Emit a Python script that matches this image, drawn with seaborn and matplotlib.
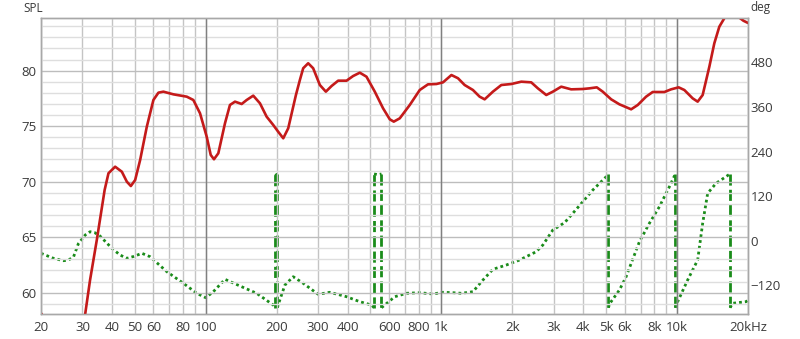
import numpy as np
import pandas as pd
import matplotlib
matplotlib.use("Agg")
import matplotlib.pyplot as plt
import seaborn as sns
from matplotlib.ticker import FixedLocator, FixedFormatter, NullFormatter

# ---------------- data ----------------
spl_freq = [20, 21, 23, 26, 28.5, 30.8, 32.3, 34.5, 37.25, 38.67, 41.27, 44.06, 46.27,
            48.11, 50.18, 52.68, 56.23, 59.98, 62.99, 66.12, 72.91, 83.09, 88.6, 94.59,
            100.97, 105.0, 108.4, 113.1, 120.7, 126.7, 133.1, 142.1, 149.2, 159.1, 169.9,
            181.3, 193.4, 203.0, 213.3, 223.9, 241.4, 250.9, 259.2, 272.1, 285.7, 305.0,
            323.4, 342.0, 364.7, 395.9, 422.1, 450.6, 481.0, 521.7, 565.6, 603.9, 628.0,
            665.9, 734.1, 809.3, 877.4, 952.4, 1016, 1103, 1176, 1255, 1361, 1453, 1526,
            1654, 1796, 1980, 2183, 2406, 2567, 2786, 2971, 3225, 3554, 3981, 4250, 4564,
            4838, 5253, 5695, 6385, 6810, 7389, 7881, 8835, 9433, 10158, 10738, 11645,
            12231, 12843, 13709, 14392, 15110, 15864, 17000, 18000, 18527, 19130, 20000]
spl_db = [58.15, 57.4, 55.5, 54.5, 55.5, 58.08, 61.14, 64.75, 69.26, 70.76, 71.35, 70.9,
          70.0, 69.61, 70.15, 71.95, 74.95, 77.36, 78.02, 78.11, 77.87, 77.66, 77.36,
          76.16, 74.05, 72.41, 72.02, 72.56, 75.26, 76.91, 77.21, 77.0, 77.36, 77.75,
          77.06, 75.86, 75.11, 74.5, 73.91, 74.81, 77.81, 79.16, 80.22, 80.67, 80.22,
          78.71, 78.11, 78.62, 79.1, 79.1, 79.52, 79.82, 79.46, 78.11, 76.61, 75.62,
          75.41, 75.71, 76.91, 78.26, 78.77, 78.8, 78.95, 79.61, 79.32, 78.71, 78.26,
          77.66, 77.42, 78.11, 78.71, 78.8, 79.01, 78.95, 78.41, 77.81, 78.11, 78.56,
          78.32, 78.35, 78.41, 78.5, 78.11, 77.42, 76.97, 76.52, 76.91, 77.66, 78.08,
          78.08, 78.32, 78.5, 78.26, 77.51, 77.21, 77.81, 80.36, 82.47, 83.96, 84.72,
          85.6, 85.5, 84.72, 84.5, 84.3]

phase_freq = [20.0, 22.6, 24.9, 26.2, 27.5, 28.8, 30.8, 32.3, 33.8, 35.6, 40.0, 43.3, 46.3,
              49.5, 53.6, 58.1, 68.4, 80.4, 91.6, 100, 107.7, 120.7, 139.8, 164.5, 193.4,
              197.6, 197.6, 199.5, 201.5, 201.5, 203.5, 216.8, 235.1, 259.2, 300, 336.3,
              395.9, 450.6, 505, 518, 518, 537, 557, 557, 575, 634, 711, 809, 921, 1016,
              1120, 1216, 1361, 1501, 1654, 1886, 2147, 2526, 2695, 2971, 3331, 3611,
              3981, 4390, 5003, 5116, 5116, 5166, 5695, 6079, 6923, 7630, 8414, 9278,
              9835, 9835, 10060, 11092, 12231, 12843, 13486, 14633, 16774, 16774, 17204,
              19614, 20000]
phase_deg = [-33.6, -47.1, -53.5, -51.6, -42.8, -8.0, 15.6, 24.5, 22.0, 12.9, -20.2, -38.2,
             -47.1, -42.0, -33.6, -42.8, -83.1, -114.3, -141.2, -153.1, -136.9, -103.6,
             -121.6, -141.2, -172.7, -180, 180, 177, 180, -180, -170, -118.9, -96.6,
             -114.3, -143.9, -138.5, -150.4, -163.8, -172.7, -180, 180, 178, 180, -180,
             -172.7, -150.4, -141.2, -139.6, -143.1, -138.5, -139.6, -141.2, -136.9,
             -105.4, -76.7, -65.1, -51.6, -29.3, -11.3, 29.1, 48.7, 74.0, 105.2, 136.7,
             172.4, 180, -180, -170, -132.3, -96.6, -2.4, 47.1, 91.7, 145.5, 180, -180,
             -163.8, -105.4, -51.6, 47.1, 127.8, 154.7, 180, -180, -168.1, -163.8, -160]

xtick_values = [20, 30, 40, 50, 60, 80, 100, 200, 300, 400, 600, 800, 1000, 2000, 3000,
                4000, 5000, 6000, 8000, 10000, 20000]
xtick_labels = ["20", "30", "40", "50", "60", "80", "100", "200", "300", "400", "600",
                "800", "1k", "2k", "3k", "4k", "5k", "6k", "8k", "10k", "20kHz"]
spl_ticks = [60, 65, 70, 75, 80]
deg_ticks = [-120, 0, 120, 240, 360, 480]

assert len(spl_freq) == len(spl_db)
assert len(phase_freq) == len(phase_deg)

# ---------------- style ----------------
sns.set_theme(style="white")
plt.rcParams["font.family"] = ["Open Sans", "DejaVu Sans"]

RED = "#c41a1a"
GREEN = "#1a8c1a"
TXT = "#3a3a3a"

fig = plt.figure(figsize=(8.0, 3.39), dpi=100)
ax = fig.add_axes([41 / 800, 1 - 314 / 339, (748 - 41) / 800, (314 - 18.3) / 339])
ax2 = ax.twinx()

# phase (right axis), drawn below SPL
ph = pd.DataFrame({"freq": phase_freq, "deg": phase_deg})
jump = ph["deg"].diff().abs() > 180
ph["seg"] = jump.cumsum()
for _, g in ph.groupby("seg"):
    sns.lineplot(data=g, x="freq", y="deg", ax=ax2, color=GREEN, linestyle=(0, (1, 1.1)),
                 linewidth=2.0, sort=False, estimator=None)
for i in np.where(jump.values)[0]:
    w = ph.iloc[i - 1:i + 1]
    sns.lineplot(data=w, x="freq", y="deg", ax=ax2, color=GREEN, linestyle=(0, (4, 1.5)),
                 linewidth=2.0, sort=False, estimator=None)

# SPL (left axis)
sp = pd.DataFrame({"freq": spl_freq, "spl": spl_db})
sns.lineplot(data=sp, x="freq", y="spl", ax=ax, color=RED, linewidth=1.9,
             sort=False, estimator=None)
for l in ax.get_lines():
    l.set_solid_joinstyle("round")

ax.set_zorder(ax2.get_zorder() + 1)
ax.patch.set_visible(False)

# scales & limits
for a in (ax, ax2):
    a.set_xscale("log")
    a.set_xlim(20, 20000)
    a.set_xlabel("")
    a.set_ylabel("")
ax.set_ylim(58.08, 84.72)
ax2.set_ylim(-196.9, 598.7)

# x grid/ticks
all_x = [m * 10 ** e for e in range(1, 5) for m in range(1, 10) if 20 <= m * 10 ** e <= 20000]
lab = {v: l for v, l in zip(xtick_values, xtick_labels)}
ax.xaxis.set_major_locator(FixedLocator(all_x))
ax.xaxis.set_major_formatter(FixedFormatter([lab.get(v, "") for v in all_x]))
ax.xaxis.set_minor_locator(FixedLocator([]))
ax.xaxis.set_minor_formatter(NullFormatter())
ax2.xaxis.set_minor_formatter(NullFormatter())
ax.grid(True, axis="x", which="major", color="#c4c4c4", linewidth=1.0)
for d in (100, 1000, 10000):
    ax.axvline(d, color="#808080", linewidth=1.0, zorder=0.6)

# y grid/ticks
ax.yaxis.set_major_locator(FixedLocator(spl_ticks))
ax.yaxis.set_minor_locator(FixedLocator(list(range(59, 85))))
ax.grid(True, axis="y", which="major", color="#bdbdbd", linewidth=1.0)
ax.grid(True, axis="y", which="minor", color="#dedede", linewidth=1.0)
ax.set_axisbelow(True)
ax2.yaxis.set_major_locator(FixedLocator(deg_ticks))
ax2.grid(False)

ax.tick_params(axis="both", which="both", length=0, colors=TXT, labelsize=9.5)
ax.tick_params(axis="x", pad=5)
ax.tick_params(axis="y", pad=3)
ax2.tick_params(axis="y", which="both", length=0, colors=TXT, labelsize=9.5, pad=2)
ax2.tick_params(axis="x", which="both", length=0, labelbottom=False)

for a in (ax, ax2):
    for s in a.spines.values():
        s.set_color("#a8a8a8")
        s.set_linewidth(1.0)

fig.text(33 / 800, 1 - 8 / 339, "SPL", ha="center", va="center", fontsize=8.5, color=TXT)
fig.text(760 / 800, 1 - 8 / 339, "deg", ha="center", va="center", fontsize=8.5, color=TXT)

fig.savefig("out.png", dpi=100, facecolor="white")
